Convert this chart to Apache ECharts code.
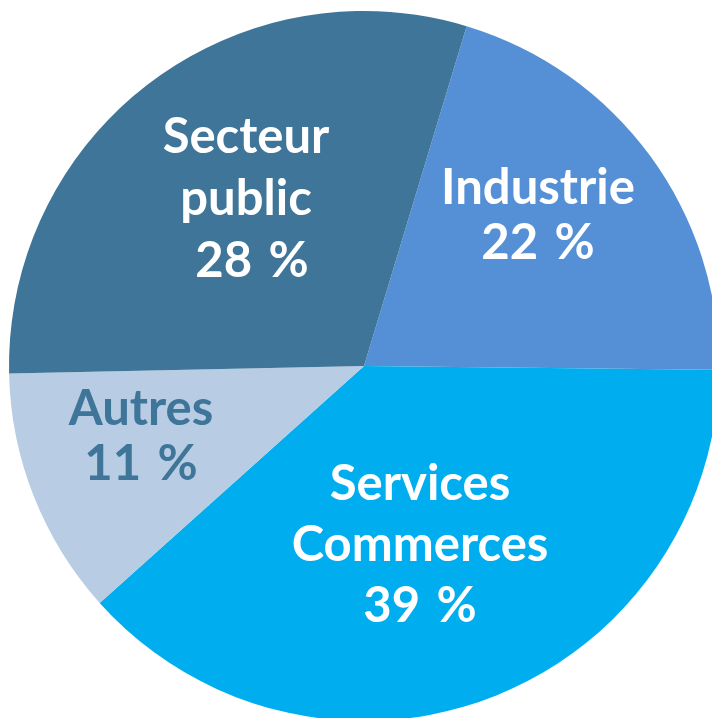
<!DOCTYPE html>
<html>
<head>
<meta charset="utf-8">
<script src="https://cdn.jsdelivr.net/npm/echarts@6/dist/echarts.min.js"></script>
<style>
html,body{margin:0;padding:0;background:#fff;}
#c{width:712px;height:718px;}
</style>
</head>
<body>
<div id="c"></div>
<script>
// Slices in clockwise order, starting at the top
const categories = ['Industrie', 'Services\nCommerces', 'Autres', 'Secteur\npublic'];
// Slice sizes as drawn in the picture (share of the circle, %)
const values = [20.5, 38.2, 11.3, 30.0];
// Percentage texts printed on the slices
const pctLabels = ['22\u2004%', '39\u2004%', '11\u2004%', ' 28\u2004%'];

const colors = ['#5590d6', '#00aeef', '#b8cce4', '#3f7598'];
const textColors = ['#ffffff', '#ffffff', '#3f7598', '#ffffff'];
const labelPos = [[538, 216], [420, 545], [141, 437], [246, 199]];
const lineHeights = [55, 61, 55, 62];

const chart = echarts.init(document.getElementById('c'), null, {renderer: 'canvas'});
chart.setOption({
  animation: false,
  series: [{
    type: 'pie',
    center: [364, 366],
    radius: [0, 355],
    startAngle: 73.2,
    clockwise: true,
    avoidLabelOverlap: false,
    emphasis: {disabled: true},
    itemStyle: {borderWidth: 0},
    label: {
      show: true,
      position: 'inside',
      fontFamily: 'Lato',
      fontWeight: 'bold',
      fontSize: 49
    },
    labelLine: {show: false},
    labelLayout: function (p) {
      const i = p.dataIndex;
      return {x: labelPos[i][0], y: labelPos[i][1], align: 'center', verticalAlign: 'middle'};
    },
    data: categories.map((n, i) => ({
      name: n,
      value: values[i],
      itemStyle: {color: colors[i]},
      label: {
        color: textColors[i],
        lineHeight: lineHeights[i],
        formatter: n + '\n' + pctLabels[i]
      }
    }))
  }]
});
</script>
</body>
</html>
